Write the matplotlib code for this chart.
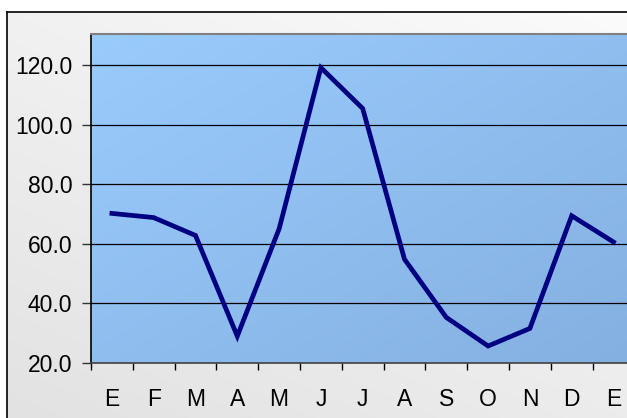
import matplotlib
matplotlib.use("Agg")
import matplotlib.pyplot as plt
import numpy as np
from matplotlib.colors import LinearSegmentedColormap

categories = ["E", "F", "M", "A", "M", "J", "J", "A", "S", "O", "N", "D", "E"]
values = [70.2, 68.8, 62.8, 29.0, 65.0, 119.1, 105.4, 54.8, 35.3, 25.7, 31.6, 69.4, 60.6]
yticks = [20, 40, 60, 80, 100, 120]

plt.rcParams['font.family'] = ['Liberation Sans', 'DejaVu Sans']

W, H = 627, 418
fig = plt.figure(figsize=(W / 100, H / 100), dpi=100, facecolor="white")

# outer chart-area background with border
bg = fig.add_axes([7 / W, -0.01, 1 - 7 / W + 0.01, (H - 12) / H + 0.01])
bg.set_xlim(0, 1); bg.set_ylim(0, 1)
gx, gy = np.meshgrid(np.linspace(0, 1, 200), np.linspace(0, 1, 200))
g = 0.6 * gy + 0.4 * gx
gcmap = LinearSegmentedColormap.from_list("g", ["#e2e2e2", "#fbfbfb"])
bg.imshow(g, extent=[0, 1, 0, 1], origin="lower", cmap=gcmap, aspect="auto", zorder=0)
bg.set_xticks([]); bg.set_yticks([])
for k, s in bg.spines.items():
    s.set_color("black"); s.set_linewidth(1.2)
bg.spines["bottom"].set_visible(False)
bg.spines["right"].set_visible(False)

# plot area
x0, x1 = 91, 91 + 13 * 41.8
y_top, y_bot = 34, 363
ax = fig.add_axes([x0 / W, (H - y_bot) / H, (x1 - x0) / W, (y_bot - y_top) / H])
ax.set_xlim(-0.5, len(categories) - 0.5)
ax.set_ylim(20, 20 + (y_bot - y_top) / 2.98)

px, py = np.meshgrid(np.linspace(0, 1, 200), np.linspace(0, 1, 200))
d = (px + (1 - py)) / 2
pcmap = LinearSegmentedColormap.from_list("p", ["#9acbfd", "#84b0e0"])
ax.imshow(d, extent=[-0.5, len(categories) - 0.5, 20, ax.get_ylim()[1]], origin="lower",
          cmap=pcmap, aspect="auto", zorder=0)

for yv in yticks[1:]:
    ax.axhline(yv, color="black", lw=0.9, zorder=1)

x = np.arange(len(categories))
ax.plot(x, values, color="#000080", lw=3.4, solid_joinstyle="miter", zorder=3)

ax.set_yticks(yticks)
ax.set_yticklabels([f"{v:.1f}" for v in yticks], fontsize=16.5)
ax.set_xticks(np.arange(len(categories) + 1) - 0.5)
ax.set_xticklabels([])
ax.set_xticks(x, minor=True)
ax.set_xticklabels(categories, minor=True, fontsize=16.5)
ax.tick_params(axis="x", which="major", direction="out", length=5, width=1, color="black")
ax.tick_params(axis="x", which="minor", length=0, pad=18)
ax.tick_params(axis="y", direction="out", length=6.5, width=1, color="#333333", pad=7)

ax.spines["left"].set_color("black"); ax.spines["left"].set_linewidth(1.2)
ax.spines["top"].set_color("#808080"); ax.spines["top"].set_linewidth(1.5)
ax.spines["bottom"].set_color("#404040"); ax.spines["bottom"].set_linewidth(1.2)
ax.spines["right"].set_visible(False)

fig.savefig("out.png", dpi=100, facecolor="white")
